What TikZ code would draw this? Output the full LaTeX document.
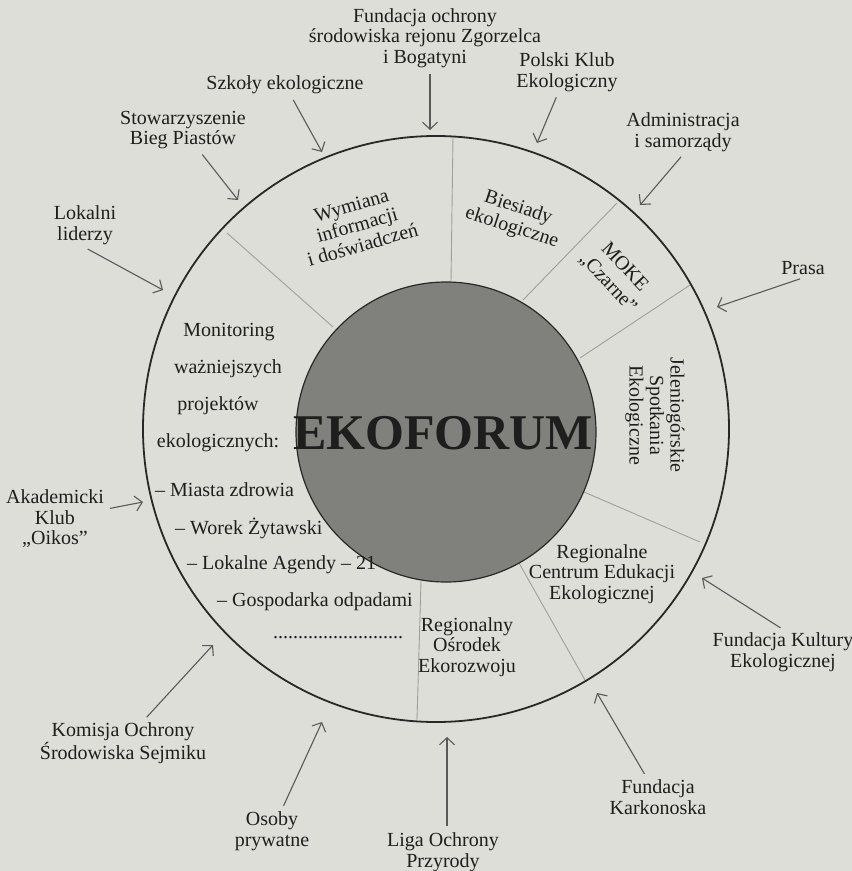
\documentclass[tikz,border=0pt]{standalone}
\usepackage{fontspec}
\setmainfont{Liberation Serif}
\usetikzlibrary{arrows.meta}
\definecolor{bgc}{RGB}{221,222,215}
\definecolor{txt}{RGB}{30,30,30}
\definecolor{arrc}{RGB}{90,90,90}
\definecolor{divc}{RGB}{160,160,155}
\definecolor{ringc}{RGB}{40,40,40}
\definecolor{corec}{RGB}{128,128,124}
\newcommand\lblfont{\fontsize{20bp}{20.5bp}\selectfont}
\newcommand\rotfont{\fontsize{20bp}{23bp}\selectfont}
\newcommand\bigfont{\fontsize{50bp}{52bp}\selectfont\bfseries}
\begin{document}
\begin{tikzpicture}[x=1bp,y=-1bp,
  lbl/.style={align=center, text=txt, inner sep=3bp, font=\lblfont},
  seg/.style={align=center, text=txt, inner sep=0pt, font=\lblfont},
  item/.style={anchor=west, text=txt, inner sep=0pt, font=\lblfont},
  arr/.style={draw=arrc, line width=1.1bp, shorten <=3bp, -{Straight Barb[length=7bp,width=15bp]}},
  divl/.style={draw=divc, line width=0.9bp}]
\fill[bgc] (0,0) rectangle (852,871);
\useasboundingbox (0,0) rectangle (852,871);

% sector dividers
\coordinate (d1o) at (227,233); \coordinate (d1i) at (333,327);
\coordinate (d2o) at (453,136); \coordinate (d2i) at (451,282);
\coordinate (d3o) at (617,203); \coordinate (d3i) at (523,300);
\coordinate (d4o) at (690,285); \coordinate (d4i) at (580,358);
\coordinate (d5o) at (700,542); \coordinate (d5i) at (584,492);
\coordinate (d6o) at (585,680); \coordinate (d6i) at (519,563);
\coordinate (d7o) at (417,720); \coordinate (d7i) at (421,581);
\foreach \k in {1,...,7} {\draw[divl] (d\k o) -- (d\k i);}

% circles
\node[circle, draw=ringc, line width=1.8bp, minimum size=586bp, inner sep=0pt] (ring) at (436,429) {};
\node[circle, draw=ringc, line width=1.2bp, fill=corec, minimum size=300bp, inner sep=0pt] (core) at (446,432) {};
\node[text=txt, inner sep=0pt, font=\bigfont] (eko) at (443,433) {EKOFORUM};

% sector texts
\node[seg, rotate=16] (wym) at (357,225) {Wymiana\\informacji\\i doświadczeń};
\node[seg, rotate=-18] (bies) at (515,218) {Biesiady\\ekologiczne};
\node[seg, rotate=-47, font=\rotfont] (moke) at (616,275) {MOKE\\„Czarne”};
\node[seg, rotate=-90] (jel) at (655,415) {Jeleniogórskie\\Spotkania\\Ekologiczne};
\node[seg] (rcee) at (602,574) {Regionalne\\Centrum Edukacji\\Ekologicznej};
\node[seg] (roe) at (467,647) {Regionalny\\Ośrodek\\Ekorozwoju};

% monitoring list
\node[seg] (mon1) at (229,332) {Monitoring};
\node[seg] (mon2) at (228,369) {ważniejszych};
\node[seg] (mon3) at (218,406) {projektów};
\node[seg] (mon4) at (218,443) {ekologicznych:};
\node[item] (it1) at (155,490) {– Miasta zdrowia};
\node[item] (it2) at (175,528) {– Worek Żytawski};
\node[item] (it3) at (187,565) {– Lokalne Agendy – 21};
\node[item] (it4) at (217,602) {– Gospodarka odpadami};
\node[item] (it5) at (273,638) {..........................};

% outside labels
\node[lbl] (fund) at (425,38) {Fundacja ochrony\\środowiska rejonu Zgorzelca\\i Bogatyni};
\node[lbl] (pke) at (567,72) {Polski Klub\\Ekologiczny};
\node[lbl] (szk) at (285,85) {Szkoły ekologiczne};
\node[lbl] (stow) at (183,130) {Stowarzyszenie\\Bieg Piastów};
\node[lbl] (lok) at (85,225) {Lokalni\\liderzy};
\node[lbl] (adm) at (683,132) {Administracja\\i samorządy};
\node[lbl] (pras) at (803,268) {Prasa};
\node[lbl] (akad) at (55,519) {Akademicki\\Klub\\„Oikos”};
\node[lbl] (fke) at (783,652) {Fundacja Kultury\\Ekologicznej};
\node[lbl] (fk) at (658,797) {Fundacja\\Karkonoska};
\node[lbl] (liga) at (443,852) {Liga Ochrony\\Przyrody};
\node[lbl] (osob) at (272,831) {Osoby\\prywatne};
\node[lbl] (kom) at (123,743) {Komisja Ochrony\\Środowiska Sejmiku};

% arrow tips
\coordinate (t-fund) at (430,130);
\coordinate (t-pke) at (537,143);
\coordinate (t-szk) at (322,152);
\coordinate (t-stow) at (238,200);
\coordinate (t-lok) at (163,290);
\coordinate (t-adm) at (640,205);
\coordinate (t-pras) at (717,307);
\coordinate (t-akad) at (143,502);
\coordinate (t-fke) at (702,578);
\coordinate (t-fk) at (597,693);
\coordinate (t-liga) at (447,737);
\coordinate (t-osob) at (322,722);
\coordinate (t-kom) at (213,645);

\draw[arr] (fund.south -| t-fund) -- (t-fund);
\draw[arr] (pke) -- (t-pke);
\draw[arr] (szk) -- (t-szk);
\draw[arr] (stow) -- (t-stow);
\draw[arr] (lok.south) -- (t-lok);
\draw[arr] (adm.south) -- (t-adm);
\draw[arr] (pras.south) -- (t-pras);
\draw[arr] (akad) -- (t-akad);
\draw[arr] (fke.north) -- (t-fke);
\draw[arr] (fk) -- (t-fk);
\draw[arr] (liga.north -| t-liga) -- (t-liga);
\draw[arr] (osob) -- (t-osob);
\draw[arr] (kom) -- (t-kom);
\end{tikzpicture}
\end{document}
